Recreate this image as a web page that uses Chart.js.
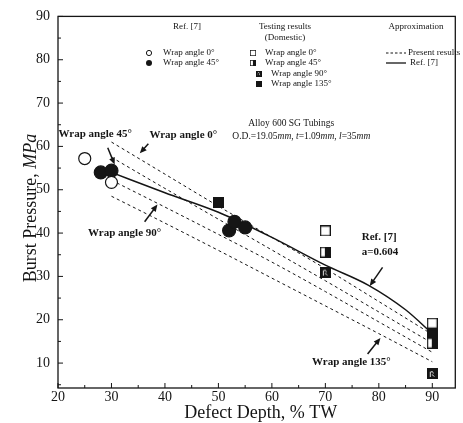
<!DOCTYPE html>
<html>
<head>
<meta charset="utf-8">
<script src="https://cdn.jsdelivr.net/npm/chart.js@4.4.1/dist/chart.umd.min.js"></script>
<style>
  body { margin: 0; background: #fff; }
  #wrap { width: 463px; height: 423px; }
</style>
</head>
<body>
<div id="wrap"><canvas id="myChart" width="463" height="423"></canvas></div>
<script>
// tick labels
var xTicks = [20, 30, 40, 50, 60, 70, 80, 90];
var yTicks = [10, 20, 30, 40, 50, 60, 70, 80, 90];

// Ref. [7] data
var ref0X = [25, 30];
var ref0Y = [57.2, 51.7];
var ref45X = [28, 30, 52, 53, 55];
var ref45Y = [54, 54.4, 40.6, 42.6, 41.3];

// testing results (domestic)
var test0X = [70, 90];
var test0Y = [40.5, 19.2];
var test45X = [70, 90];
var test45Y = [35.6, 14.6];
var test90X = [70, 90];
var test90Y = [31, 7.6];
var test135X = [50, 90];
var test135Y = [47, 16.6];

// approximation curves
var lineX = [30, 40, 50, 60, 70, 80, 90];
var present0 = [61, 53.6, 46.2, 39, 31.8, 24.2, 16.6];
var present45 = [57.5, 50.3, 43.2, 36.1, 29, 21.8, 14.6];
var present90 = [52.2, 46, 39.7, 33.3, 26.5, 19.5, 12.5];
var present135 = [48.5, 42.3, 36, 29.6, 23.2, 16.8, 10.3];
var refLineX = [30, 40, 50, 60, 70, 78, 85, 90];
var refLineY = [54, 49.3, 44.8, 39, 32.6, 28, 22.3, 16.8];

function pts(xs, ys) {
    return xs.map(function(x, i) { return {x: x, y: ys[i]}; });
}

var INK = '#151515';
var SERIF = '"Liberation Serif", "DejaVu Serif", serif';

// marker images
function makeSquare(kind) {
    var c = document.createElement('canvas');
    c.width = 11; c.height = 11;
    var g = c.getContext('2d');
    g.fillStyle = '#fff';
    g.fillRect(0, 0, 11, 11);
    g.fillStyle = INK;
    if (kind === 'half') {
        g.fillRect(5, 0, 6, 11);
    } else if (kind === 'w90') {
        g.fillRect(0, 0, 11, 11);
        g.strokeStyle = '#ddd';
        g.lineWidth = 1;
        g.beginPath();
        g.moveTo(3.5, 9); g.lineTo(3.5, 4); g.lineTo(5.5, 3.5); g.lineTo(6.5, 5.5);
        g.moveTo(5, 6.5); g.lineTo(7.5, 8.5);
        g.stroke();
    } else if (kind === 'full') {
        g.fillRect(0, 0, 11, 11);
    }
    g.strokeStyle = INK;
    g.lineWidth = 1.3;
    g.strokeRect(0.65, 0.65, 9.7, 9.7);
    return c;
}
var sqOpen = makeSquare('open');
var sqHalf = makeSquare('half');
var sq90 = makeSquare('w90');
var sq135 = makeSquare('full');

function markerSet(label, data, style, fill, radius) {
    return {
        label: label,
        data: data,
        showLine: false,
        pointStyle: style,
        pointRadius: radius || 6,
        backgroundColor: fill,
        borderColor: INK,
        borderWidth: 1.2,
        order: 0
    };
}
function curveSet(label, xs, ys, dashed) {
    return {
        label: label,
        data: pts(xs, ys),
        showLine: true,
        pointRadius: 0,
        borderColor: INK,
        borderWidth: dashed ? 1 : 1.5,
        borderDash: dashed ? [3, 3] : [],
        cubicInterpolationMode: 'monotone',
        order: 1
    };
}

// annotations, positioned in data units
var notes = [
    {text: 'Wrap angle 45°', x: 20.1, y: 62.9, from: [29.3, 59.7], to: [30.6, 55.8]},
    {text: 'Wrap angle 0°', x: 37.1, y: 62.6, from: [36.9, 60.6], to: [35.3, 58.4]},
    {text: 'Wrap angle 90°', x: 25.6, y: 39.9, from: [36.2, 42.6], to: [38.6, 46.6]},
    {text: 'Wrap angle 135°', x: 67.5, y: 10.2, from: [77.9, 12.1], to: [80.3, 15.8]},
    {text: 'Ref. [7]', x: 76.8, y: 39.0, from: [80.7, 32.1], to: [78.3, 27.8]},
    {text: 'a=0.604', x: 76.8, y: 35.5}
];

function arrow(ctx, x1, y1, x2, y2) {
    var a = Math.atan2(y2 - y1, x2 - x1);
    ctx.beginPath();
    ctx.moveTo(x1, y1);
    ctx.lineTo(x2 - 4 * Math.cos(a), y2 - 4 * Math.sin(a));
    ctx.lineWidth = 1.5;
    ctx.stroke();
    ctx.beginPath();
    ctx.moveTo(x2, y2);
    ctx.lineTo(x2 - 7 * Math.cos(a) + 3 * Math.sin(a), y2 - 7 * Math.sin(a) - 3 * Math.cos(a));
    ctx.lineTo(x2 - 7 * Math.cos(a) - 3 * Math.sin(a), y2 - 7 * Math.sin(a) + 3 * Math.cos(a));
    ctx.closePath();
    ctx.fill();
}

// draw text pieces one after another, each with its own font
function runs(ctx, parts, x, y) {
    parts.forEach(function(p) {
        ctx.font = p[1];
        ctx.fillText(p[0], x, y);
        x += ctx.measureText(p[0]).width;
    });
}

var decorPlugin = {
    id: 'decor',
    afterDraw: function(chart) {
        var ctx = chart.ctx;
        var a = chart.chartArea;
        var xs = chart.scales.x, ys = chart.scales.y;
        ctx.save();
        ctx.strokeStyle = INK;
        ctx.fillStyle = INK;

        // frame
        ctx.lineWidth = 1.3;
        ctx.strokeRect(a.left, a.top, a.right - a.left, a.bottom - a.top);

        // inward ticks
        ctx.lineWidth = 1;
        ctx.beginPath();
        xTicks.forEach(function(v) {
            var p = xs.getPixelForValue(v);
            ctx.moveTo(p, a.bottom); ctx.lineTo(p, a.bottom - 5);
            var m = xs.getPixelForValue(v + 5);
            if (v + 5 < xs.max) { ctx.moveTo(m, a.bottom); ctx.lineTo(m, a.bottom - 3); }
        });
        yTicks.forEach(function(v) {
            var p = ys.getPixelForValue(v);
            ctx.moveTo(a.left, p); ctx.lineTo(a.left + 5, p);
            var m = ys.getPixelForValue(v - 5);
            if (v - 5 > ys.min) { ctx.moveTo(a.left, m); ctx.lineTo(a.left + 3, m); }
        });
        ctx.stroke();

        // axis titles
        ctx.textBaseline = 'middle';
        ctx.textAlign = 'left';
        var f18 = '18px ' + SERIF, f18i = 'italic 18px ' + SERIF;
        ctx.font = f18;
        var w1 = ctx.measureText('Defect Depth, % TW').width;
        runs(ctx, [['Defect Depth, % TW', f18]], (a.left + a.right) / 2 - w1 / 2 + 4, 413);
        ctx.save();
        ctx.translate(31, 208);
        ctx.rotate(-Math.PI / 2);
        ctx.font = f18;
        var t1 = ctx.measureText('Burst Pressure, ').width;
        ctx.font = f18i;
        var t2 = ctx.measureText('MPa').width;
        runs(ctx, [['Burst Pressure, ', f18], ['MPa', f18i]], -(t1 + t2) / 2, 0);
        ctx.restore();

        // annotations
        ctx.font = 'bold 11px ' + SERIF;
        notes.forEach(function(n) {
            ctx.fillText(n.text, xs.getPixelForValue(n.x), ys.getPixelForValue(n.y));
            if (n.from) {
                arrow(ctx, xs.getPixelForValue(n.from[0]), ys.getPixelForValue(n.from[1]),
                      xs.getPixelForValue(n.to[0]), ys.getPixelForValue(n.to[1]));
            }
        });

        // specimen note
        var f95 = '9.5px ' + SERIF, f95i = 'italic 9.5px ' + SERIF;
        ctx.font = f95;
        ctx.textAlign = 'center';
        ctx.fillText('Alloy 600 SG Tubings', xs.getPixelForValue(63.6), ys.getPixelForValue(65.2));
        ctx.textAlign = 'left';
        runs(ctx, [['O.D.=19.05', f95], ['mm', f95i], [', ', f95], ['t', f95i], ['=1.09', f95],
                   ['mm', f95i], [', ', f95], ['l', f95i], ['=35', f95], ['mm', f95i]],
             xs.getPixelForValue(52.6), ys.getPixelForValue(62.2));

        // legend block
        ctx.font = '9px ' + SERIF;
        ctx.textAlign = 'center';
        ctx.fillText('Ref. [7]', 187, 27);
        ctx.fillText('Testing results', 285, 27);
        ctx.fillText('(Domestic)', 285, 38);
        ctx.fillText('Approximation', 416, 27);
        ctx.textAlign = 'left';
        var rows = [53, 63, 73.5, 84];
        ctx.fillText('Wrap angle 0°', 163, rows[0]);
        ctx.fillText('Wrap angle 45°', 163, rows[1]);
        ctx.lineWidth = 1;
        ctx.beginPath(); ctx.arc(149, rows[0], 2.6, 0, Math.PI * 2); ctx.stroke();
        ctx.beginPath(); ctx.arc(149, rows[1], 3, 0, Math.PI * 2); ctx.fill();

        ctx.fillText('Wrap angle 0°', 265, rows[0]);
        ctx.fillText('Wrap angle 45°', 265, rows[1]);
        ctx.fillText('Wrap angle 90°', 271, rows[2]);
        ctx.fillText('Wrap angle 135°', 271, rows[3]);
        ctx.drawImage(sqOpen, 250, rows[0] - 3, 6, 6);
        ctx.drawImage(sqHalf, 250, rows[1] - 3, 6, 6);
        ctx.drawImage(sq90, 256, rows[2] - 3, 6, 6);
        ctx.drawImage(sq135, 256, rows[3] - 3, 6, 6);

        ctx.beginPath();
        ctx.setLineDash([2.5, 2]);
        ctx.moveTo(386, rows[0]); ctx.lineTo(406, rows[0]);
        ctx.stroke();
        ctx.setLineDash([]);
        ctx.beginPath();
        ctx.lineWidth = 1.3;
        ctx.moveTo(386, rows[1]); ctx.lineTo(406, rows[1]);
        ctx.stroke();
        ctx.fillText('Present results', 408, rows[0]);
        ctx.fillText('Ref. [7]', 410, rows[1]);

        ctx.restore();
    }
};

var ctx = document.getElementById('myChart');
new Chart(ctx, {
    type: 'scatter',
    data: {
        datasets: [
            markerSet('Ref. [7] Wrap angle 0°', pts(ref0X, ref0Y), 'circle', '#fff', 6),
            markerSet('Ref. [7] Wrap angle 45°', pts(ref45X, ref45Y), 'circle', INK, 6.5),
            markerSet('Testing Wrap angle 0°', pts(test0X, test0Y), sqOpen, '#fff'),
            markerSet('Testing Wrap angle 45°', pts(test45X, test45Y), sqHalf, '#fff'),
            markerSet('Testing Wrap angle 90°', pts(test90X, test90Y), sq90, INK),
            markerSet('Testing Wrap angle 135°', pts(test135X, test135Y), sq135, INK),
            curveSet('Present results 0°', lineX, present0, true),
            curveSet('Present results 45°', lineX, present45, true),
            curveSet('Present results 90°', lineX, present90, true),
            curveSet('Present results 135°', lineX, present135, true),
            curveSet('Ref. [7]', refLineX, refLineY, false)
        ]
    },
    options: {
        responsive: false,
        animation: false,
        devicePixelRatio: 1,
        layout: { padding: { left: 0, right: 6, top: 15, bottom: 0 } },
        plugins: {
            legend: { display: false },
            tooltip: { enabled: false }
        },
        scales: {
            x: {
                type: 'linear',
                min: 20,
                max: 94.3,
                grid: { display: false, drawTicks: false },
                border: { display: false },
                afterBuildTicks: function(s) { s.ticks = xTicks.map(function(v) { return {value: v}; }); },
                afterFit: function(s) { s.height = 35; },
                ticks: { padding: 1, color: INK, font: { family: SERIF, size: 14 } }
            },
            y: {
                type: 'linear',
                min: 4.25,
                max: 90,
                grid: { display: false, drawTicks: false },
                border: { display: false },
                afterBuildTicks: function(s) { s.ticks = yTicks.map(function(v) { return {value: v}; }); },
                afterFit: function(s) { s.width = 58; },
                ticks: { padding: 8, color: INK, font: { family: SERIF, size: 14 } }
            }
        }
    },
    plugins: [decorPlugin]
});
</script>
</body>
</html>
